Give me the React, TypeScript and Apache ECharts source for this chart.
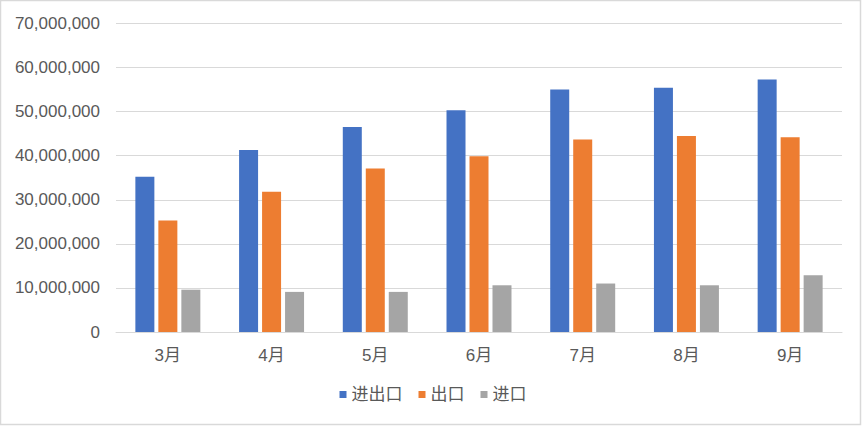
import React, { useEffect, useRef } from "react";
import * as echarts from "echarts";

const categories = ["3月", "4月", "5月", "6月", "7月", "8月", "9月"];
const seriesNames = ["进出口", "出口", "进口"];
const totalValues = [35200000, 41300000, 46500000, 50300000, 55000000, 55400000, 57300000];
const exportValues = [25300000, 31800000, 37100000, 39900000, 43700000, 44500000, 44200000];
const importValues = [9600000, 9100000, 9100000, 10600000, 11000000, 10600000, 12900000];
const colors = ["#4472C4", "#ED7D31", "#A5A5A5"];

const FONT = "'Liberation Sans', Arial, 'Noto Sans CJK SC', sans-serif";

export default function App() {
  const ref = useRef<HTMLDivElement>(null);
  useEffect(() => {
    if (!ref.current) return;
    const chart = echarts.init(ref.current, null, { renderer: "svg" });
    const data = [totalValues, exportValues, importValues];
    chart.setOption({
      animation: false,
      backgroundColor: "#ffffff",
      textStyle: { fontFamily: FONT },
      graphic: [
        {
          type: "rect",
          shape: { x: 0.5, y: 0.5, width: 860, height: 424 },
          style: { fill: "none", stroke: "#d9d9d9", lineWidth: 1.5 },
          silent: true,
        },
      ],
      grid: { left: 116, right: 24, top: 23.5, bottom: 95, containLabel: false },
      legend: {
        data: seriesNames,
        bottom: 19,
        left: "center",
        icon: "rect",
        itemWidth: 7,
        itemHeight: 7,
        itemGap: 16,
        textStyle: { fontSize: 17, color: "#595959", fontFamily: FONT, padding: [0, 0, 0, 0] },
      },
      xAxis: {
        type: "category",
        data: categories,
        axisLine: { show: true, lineStyle: { color: "#d9d9d9", width: 1 } },
        axisTick: { show: false },
        axisLabel: { fontSize: 17, color: "#595959", margin: 15, fontFamily: FONT },
      },
      yAxis: {
        type: "value",
        min: 0,
        max: 70000000,
        interval: 10000000,
        axisLine: { show: false },
        axisTick: { show: false },
        splitLine: { lineStyle: { color: "#d9d9d9", width: 1 } },
        axisLabel: {
          fontSize: 17,
          color: "#595959",
          margin: 16,
          fontFamily: FONT,
          formatter: (v: number) => v.toLocaleString("en-US"),
        },
      },
      series: seriesNames.map((name, i) => ({
        name,
        type: "bar",
        data: data[i],
        barWidth: 19,
        barGap: "21%",
        itemStyle: { color: colors[i] },
      })),
    });
    return () => chart.dispose();
  }, []);
  return (
    <div style={{ position: "fixed", left: 0, top: 0, width: 866, height: 427 }}>
      <div ref={ref} style={{ width: 866, height: 427 }} />
    </div>
  );
}
